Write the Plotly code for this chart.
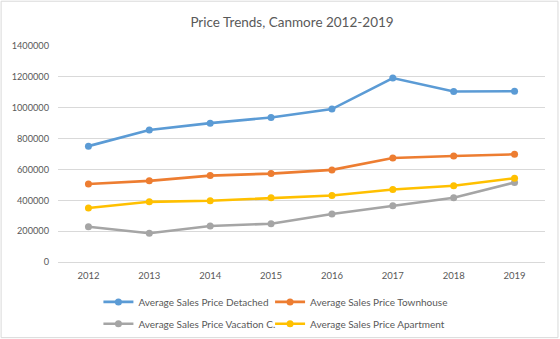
import plotly.graph_objects as go

years = ["2012", "2013", "2014", "2015", "2016", "2017", "2018", "2019"]
detached = [751000, 856000, 900000, 937000, 991000, 1192000, 1105000, 1107000]
townhouse = [506000, 526000, 560000, 573000, 597000, 674000, 687000, 698000]
vacation = [229000, 186000, 233000, 248000, 311000, 365000, 416000, 515000]
apartment = [350000, 390000, 397000, 416000, 431000, 470000, 494000, 543000]

# (label, values, colour, legend slot)
series = [
    ("Average Sales Price Detached", detached, "#5B9BD5", "legend"),
    ("Average Sales Price Townhouse", townhouse, "#ED7D31", "legend2"),
    ("Average Sales Price Vacation C.", vacation, "#A5A5A5", "legend3"),
    ("Average Sales Price Apartment", apartment, "#FFC000", "legend4"),
]

FONT = "Lato, 'Open Sans', sans-serif"
W, H = 560, 339
ML, MR, MT, MB = 57.5, 14.5, 45.5, 76.5
PW = W - ML - MR
PH = H - MT - MB


def px_x(x):
    return (x - ML) / PW


def px_y(y):
    return (H - MB - y) / PH


fig = go.Figure()
for name, vals, color, leg in series:
    fig.add_trace(go.Scatter(
        x=years, y=vals, name=name, mode="lines+markers",
        line=dict(color=color, width=2.6),
        marker=dict(color=color, size=7),
        legend=leg,
    ))

# light frame around the whole chart area
fig.add_shape(
    type="rect", xref="paper", yref="paper",
    x0=px_x(0.5), x1=px_x(558.5), y0=px_y(338.5), y1=px_y(0.5),
    line=dict(color="#D9D9D9", width=1), fillcolor="rgba(0,0,0,0)",
    layer="below",
)

legend_style = dict(orientation="h", xanchor="left", yanchor="top",
                    font=dict(size=10, color="#595959"),
                    bgcolor="rgba(0,0,0,0)", itemwidth=30)

col1, col2 = 98, 270
row1, row2 = 288, 310

fig.update_layout(
    width=W, height=H,
    margin=dict(l=ML, r=MR, t=MT, b=MB, autoexpand=False),
    paper_bgcolor="white", plot_bgcolor="white",
    font=dict(family=FONT, color="#595959", size=10),
    title=dict(text="Price Trends, Canmore 2012-2019", x=292 / W, xanchor="center",
               y=1 - 22 / H, yanchor="middle",
               font=dict(family=FONT, size=13.5, color="#595959")),
    xaxis=dict(type="category", showgrid=False, showline=True, linecolor="#D9D9D9",
               ticks="", tickfont=dict(size=9.5, color="#595959"), range=[-0.5, 7.5],
               ticklabelstandoff=5, fixedrange=True),
    yaxis=dict(range=[0, 1400000], dtick=200000, tickformat="d",
               showgrid=True, gridcolor="#D9D9D9", gridwidth=1, zeroline=False,
               ticks="", tickfont=dict(size=9.2, color="#595959"),
               ticklabelstandoff=8, showline=False),
    legend=dict(x=px_x(col1), y=px_y(row1), **legend_style),
    legend2=dict(x=px_x(col2), y=px_y(row1), **legend_style),
    legend3=dict(x=px_x(col1), y=px_y(row2), **legend_style),
    legend4=dict(x=px_x(col2), y=px_y(row2), **legend_style),
    showlegend=True,
)

fig.write_html("out.html")
